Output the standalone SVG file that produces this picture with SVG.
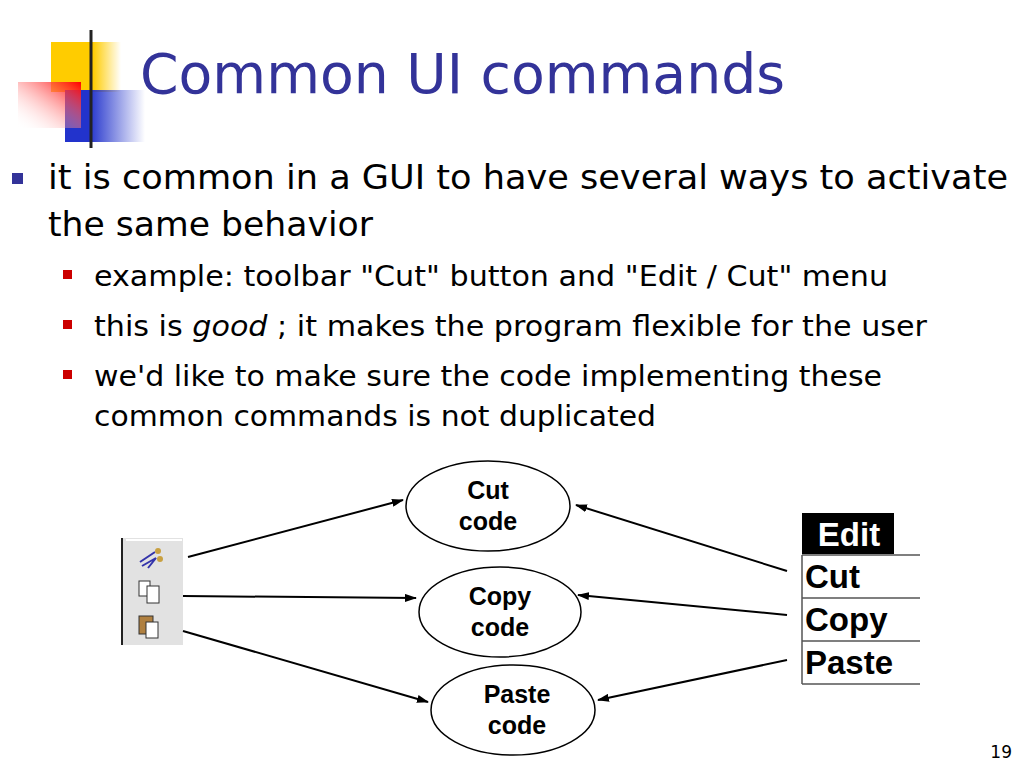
<svg xmlns="http://www.w3.org/2000/svg" width="1024" height="768" viewBox="0 0 1024 768">
<defs>
<linearGradient id="gy" x1="0" x2="1"><stop offset="0.6" stop-color="#ffcc00"/><stop offset="1" stop-color="#ffcc00" stop-opacity="0"/></linearGradient>
<linearGradient id="gb" x1="0" x2="1"><stop offset="0.3" stop-color="#2233cc"/><stop offset="1" stop-color="#2233cc" stop-opacity="0"/></linearGradient>
<linearGradient id="gr" x1="1" y1="0" x2="0" y2="1"><stop offset="0" stop-color="#ff0000"/><stop offset="1" stop-color="#ffffff" stop-opacity="0"/></linearGradient>
<linearGradient id="hl" x1="0" x2="1"><stop offset="0" stop-color="#222"/><stop offset="1" stop-color="#ccc"/></linearGradient>
<marker id="ah" markerWidth="12" markerHeight="8" refX="11" refY="4" orient="auto" markerUnits="userSpaceOnUse"><path d="M0,0 L12,4 L0,8 z" fill="#000"/></marker>
<style>
.t{font-family:"DejaVu Sans",Verdana,sans-serif;fill:#000}
.n{font-family:"Liberation Sans",Arial,sans-serif;font-weight:bold;font-size:25px;text-anchor:middle}
.e{fill:#fff;stroke:#000;stroke-width:1.5}
.c line{stroke:#000;stroke-width:2;marker-end:url(#ah)}
</style>
</defs>
<rect width="1024" height="768" fill="#fff"/>
<g id="logo">
<rect x="51" y="42" width="70" height="50" fill="url(#gy)"/>
<rect x="65" y="90" width="80" height="52" fill="url(#gb)"/>
<rect x="18" y="82" width="63" height="46" fill="url(#gr)"/>
<line x1="91" y1="30" x2="91" y2="148" stroke="#222" stroke-width="3"/>
<line x1="54" y1="120" x2="1010" y2="120" stroke="url(#hl)" stroke-width="3"/>
</g>
<text x="140" y="93" font-family="DejaVu Sans,Verdana,sans-serif" font-size="56" fill="#333399" textLength="645" lengthAdjust="spacingAndGlyphs">Common UI commands</text>
<g id="bullets">
<rect x="12" y="173" width="11" height="11" fill="#333399"/>
<text class="t" x="48" y="189" font-size="33" textLength="960" lengthAdjust="spacingAndGlyphs">it is common in a GUI to have several ways to activate</text>
<text class="t" x="48" y="236" font-size="33" textLength="325" lengthAdjust="spacingAndGlyphs">the same behavior</text>
<rect x="63" y="270" width="9" height="9" fill="#cc0000"/>
<text class="t" x="94" y="286" font-size="28" textLength="794" lengthAdjust="spacingAndGlyphs">example: toolbar "Cut" button and "Edit / Cut" menu</text>
<rect x="63" y="320" width="9" height="9" fill="#cc0000"/>
<text class="t" x="94" y="336" font-size="28" textLength="833" lengthAdjust="spacingAndGlyphs">this is <tspan font-style="italic">good</tspan> ; it makes the program flexible for the user</text>
<rect x="63" y="370" width="9" height="9" fill="#cc0000"/>
<text class="t" x="94" y="386" font-size="28" textLength="788" lengthAdjust="spacingAndGlyphs">we'd like to make sure the code implementing these</text>
<text class="t" x="94" y="426" font-size="28" textLength="562" lengthAdjust="spacingAndGlyphs">common commands is not duplicated</text>
</g>
<g id="toolbar">
<rect x="122" y="538" width="61" height="107" fill="#e2e2e2"/>
<line x1="122" y1="538" x2="122" y2="645" stroke="#222" stroke-width="2"/>
<line x1="126" y1="540" x2="182" y2="540" stroke="#fff" stroke-width="2"/>
<path d="M140,562 L155,552 M142,566 L156,558 L148,568" stroke="#3333aa" stroke-width="2" fill="none"/>
<circle cx="158" cy="551" r="3" fill="#c8a040"/><circle cx="160" cy="559" r="3" fill="#c8a040"/>
<rect x="139" y="581" width="11" height="15" fill="#fff" stroke="#333"/>
<rect x="147" y="586" width="12" height="17" fill="#fff" stroke="#333"/>
<rect x="139" y="616" width="14" height="18" fill="#b08040" stroke="#333"/>
<rect x="146" y="622" width="12" height="16" fill="#fff" stroke="#333"/>
</g>
<g id="cut"><ellipse class="e" cx="488" cy="506" rx="82" ry="45"/><text class="n" x="488" y="499">Cut</text><text class="n" x="488" y="530">code</text></g>
<g id="copy"><ellipse class="e" cx="500" cy="612" rx="81" ry="45"/><text class="n" x="500" y="605">Copy</text><text class="n" x="500" y="636">code</text></g>
<g id="paste"><ellipse class="e" cx="513" cy="710" rx="82" ry="45"/><text class="n" x="517" y="703">Paste</text><text class="n" x="517" y="734">code</text></g>
<g id="menu">
<rect x="802" y="513" width="92" height="41" fill="#000"/>
<text x="849" y="546" font-family="Liberation Sans,Arial,sans-serif" font-weight="bold" font-size="33" fill="#fff" text-anchor="middle">Edit</text>
<g stroke="#555" stroke-width="1.5"><line x1="802" y1="555" x2="920" y2="555"/><line x1="802" y1="598" x2="920" y2="598"/><line x1="802" y1="641" x2="920" y2="641"/><line x1="802" y1="684" x2="920" y2="684"/><line x1="802" y1="555" x2="802" y2="684"/></g>
<g font-family="Liberation Sans,Arial,sans-serif" font-weight="bold" font-size="33" fill="#000">
<text x="805" y="588">Cut</text><text x="805" y="631">Copy</text><text x="805" y="674">Paste</text></g>
</g>
<g class="c" id="connectors">
<line x1="188" y1="557" x2="403" y2="500"/>
<line x1="183" y1="596" x2="416" y2="598"/>
<line x1="183" y1="631" x2="428" y2="702"/>
<line x1="787" y1="571" x2="576" y2="505"/>
<line x1="787" y1="615" x2="578" y2="595"/>
<line x1="787" y1="660" x2="598" y2="700"/>
</g>
<text x="1012" y="758" font-family="DejaVu Sans,Verdana,sans-serif" font-size="17" text-anchor="end">19</text>
</svg>
